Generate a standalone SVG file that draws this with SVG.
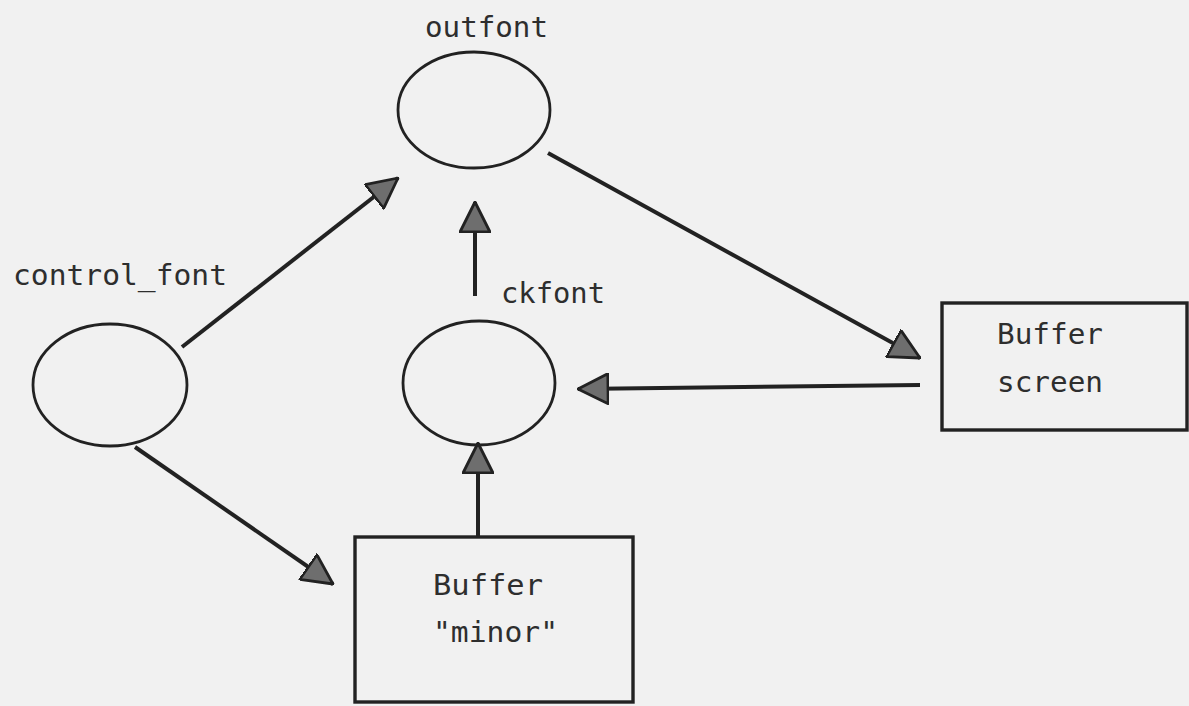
<svg xmlns="http://www.w3.org/2000/svg" width="1189" height="706" viewBox="0 0 1189 706">
<style>
.bg{fill:#f1f1f1}
.shape{fill:none;stroke:#222222;stroke-width:2.8}
.box{fill:none;stroke:#222222;stroke-width:3.4}
.edge{fill:none;stroke:#222222;stroke-width:4}
.lbl{font-family:"DejaVu Sans Mono","Liberation Mono",monospace;font-size:29px;fill:#2e2e2e}
</style>
<defs>
<marker id="ah" markerUnits="userSpaceOnUse" viewBox="0 0 32 32" markerWidth="32" markerHeight="32" refX="31" refY="16" orient="auto">
<path d="M1,1 L31,16 L1,31 z" fill="#6e6e6e" stroke="#222222" stroke-width="2.8" stroke-linejoin="round"/>
</marker>
</defs>
<rect class="bg" x="0" y="0" width="1189" height="706"/>
<g id="connectors">
<line class="edge" x1="182" y1="347" x2="398" y2="178" marker-end="url(#ah)"/>
<line class="edge" x1="475" y1="296" x2="475" y2="202" marker-end="url(#ah)"/>
<line class="edge" x1="548" y1="153" x2="920" y2="358" marker-end="url(#ah)"/>
<line class="edge" x1="920" y1="385" x2="578" y2="389" marker-end="url(#ah)"/>
<line class="edge" x1="135" y1="447" x2="333" y2="584" marker-end="url(#ah)"/>
<line class="edge" x1="478" y1="537" x2="478" y2="443" marker-end="url(#ah)"/>
</g>
<g id="outfont">
<ellipse class="shape" cx="474" cy="110" rx="76" ry="58"/>
<text class="lbl" x="425" y="37" textLength="123" lengthAdjust="spacingAndGlyphs">outfont</text>
</g>
<g id="control_font">
<ellipse class="shape" cx="110" cy="385" rx="77" ry="61"/>
<text class="lbl" x="13" y="285" textLength="214" lengthAdjust="spacingAndGlyphs">control_font</text>
</g>
<g id="ckfont">
<ellipse class="shape" cx="479" cy="383" rx="76" ry="62"/>
<text class="lbl" x="501" y="303" textLength="104" lengthAdjust="spacingAndGlyphs">ckfont</text>
</g>
<g id="buffer_screen">
<rect class="box" x="942" y="303" width="245" height="127"/>
<text class="lbl" x="997" y="344" textLength="106" lengthAdjust="spacingAndGlyphs">Buffer</text>
<text class="lbl" x="997" y="392" textLength="106" lengthAdjust="spacingAndGlyphs">screen</text>
</g>
<g id="buffer_minor">
<rect class="box" x="355" y="537" width="278" height="165"/>
<text class="lbl" x="433" y="595" textLength="110" lengthAdjust="spacingAndGlyphs">Buffer</text>
<text class="lbl" x="433" y="642" textLength="125" lengthAdjust="spacingAndGlyphs">"minor"</text>
</g>
</svg>
